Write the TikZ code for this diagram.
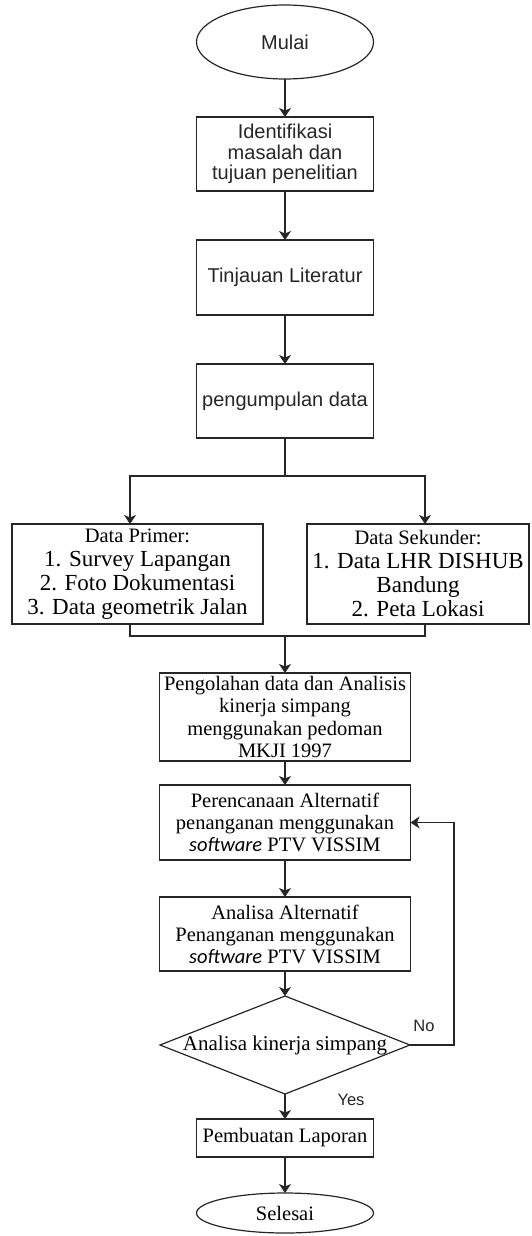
\documentclass[tikz,border=0pt]{standalone}
\usepackage{fontspec}
\setmainfont{Liberation Serif}
\newfontfamily\timesfont{Liberation Serif}
\newfontfamily\arialfont{Liberation Sans}
\newfontfamily\calibrifont{Carlito}
\usepackage{tikz}
\usetikzlibrary{shapes.geometric,arrows.meta,positioning}
\newcommand{\soft}{{\calibrifont\itshape software}}
\tikzstyle{garis} = [line width=1.2pt, draw=black!85]
\tikzstyle{panah} = [garis, -{Stealth[length=9pt,width=12pt,inset=2.5pt]}]
\tikzstyle{proses} = [draw, garis, inner sep=0pt, outer sep=0pt, align=center, font=\timesfont\fontsize{20.5}{22}\selectfont]
\tikzstyle{prosessans} = [proses, text=black!85, font=\arialfont\fontsize{20}{20.7}\selectfont, minimum width=177pt, minimum height=74pt]
\tikzstyle{daftar} = [proses, minimum height=100pt, font=\timesfont\fontsize{23}{24}\selectfont]
\tikzstyle{terminal} = [draw, garis, ellipse, inner sep=0pt, outer sep=0pt, minimum width=177pt]
\tikzstyle{keputusan} = [draw, garis, diamond, aspect=2.55, inner sep=-4pt, outer sep=0pt, minimum width=250pt, minimum height=98pt, font=\timesfont\fontsize{21}{22}\selectfont]
\tikzstyle{jawab} = [text=black!85, font=\arialfont\fontsize{16.5}{18}\selectfont]

\begin{document}
\begin{tikzpicture}[x=1pt,y=-1pt]
	\useasboundingbox (0,0) rectangle (531,1236);
	\node[terminal, minimum height=74pt, text=black!85, font=\arialfont\fontsize{20}{21}\selectfont] (mulai) at (285,42) {Mulai};
	\node[prosessans] (ident) at (285,154) {Identifikasi\\masalah dan\\tujuan penelitian};
	\node[prosessans, minimum height=75pt] (tinjau) at (285,277.5) {Tinjauan Literatur};
	\node[prosessans] (kumpul) at (285,401) {pengumpulan data};
	\node[daftar, minimum width=251pt] (primer) at (137.5,574) {{\fontsize{20.5}{24}\selectfont Data Primer:}\\1. Survey Lapangan\\2. Foto Dokumentasi\\3. Data geometrik Jalan};
	\node[daftar, minimum width=222pt] (sekunder) at (418,574) {{\fontsize{20.5}{24}\selectfont Data Sekunder:}\\1. Data LHR DISHUB\\Bandung\\2. Peta Lokasi};
	\node[proses, minimum width=251pt, minimum height=88pt, font=\timesfont\fontsize{20.5}{22.5}\selectfont] (olah) at (285,717) {Pengolahan data dan Analisis\\kinerja simpang\\menggunakan pedoman\\MKJI 1997};
	\node[proses, minimum width=251pt, minimum height=75pt] (rencana) at (285,822.5) {Perencanaan Alternatif\\penanganan menggunakan\\\soft{} PTV VISSIM};
	\node[proses, minimum width=251pt, minimum height=74pt] (alt) at (285,934) {Analisa Alternatif\\Penanganan menggunakan\\\soft{} PTV VISSIM};
	\node[keputusan] (cek) at (285,1045) {Analisa kinerja simpang};
	\node[proses, minimum width=177pt, minimum height=38pt] (lapor) at (285,1138) {Pembuatan Laporan};
	\node[terminal, minimum height=40pt, font=\timesfont\fontsize{20.5}{22}\selectfont] (selesai) at (285,1213) {Selesai};
	\node[jawab] (no) at (424,1026) {No};
	\node[jawab] (yes) at (351,1100) {Yes};
	\coordinate (split) at (285,476);
	\coordinate (merge) at (285,636);
	\draw[panah] (mulai) -- (ident);
	\draw[panah] (ident) -- (tinjau);
	\draw[panah] (tinjau) -- (kumpul);
	\draw[garis] (kumpul) -- (split);
	\draw[panah] (split) -| ([xshift=-7.5pt]primer.north);
	\draw[panah] (split) -| ([xshift=7pt]sekunder.north);
	\draw[garis] ([xshift=-7.5pt]primer.south) |- (merge);
	\draw[garis] ([xshift=7pt]sekunder.south) |- (merge);
	\draw[panah] (merge) -- (olah);
	\draw[panah] (olah) -- (rencana);
	\draw[panah] (rencana) -- (alt);
	\draw[panah] (alt) -- (cek);
	\draw[panah] (cek.east) -- ++(44,0) |- (rencana.east);
	\draw[panah] (cek) -- (lapor);
	\draw[panah] (lapor) -- (selesai);
\end{tikzpicture}
\end{document}
